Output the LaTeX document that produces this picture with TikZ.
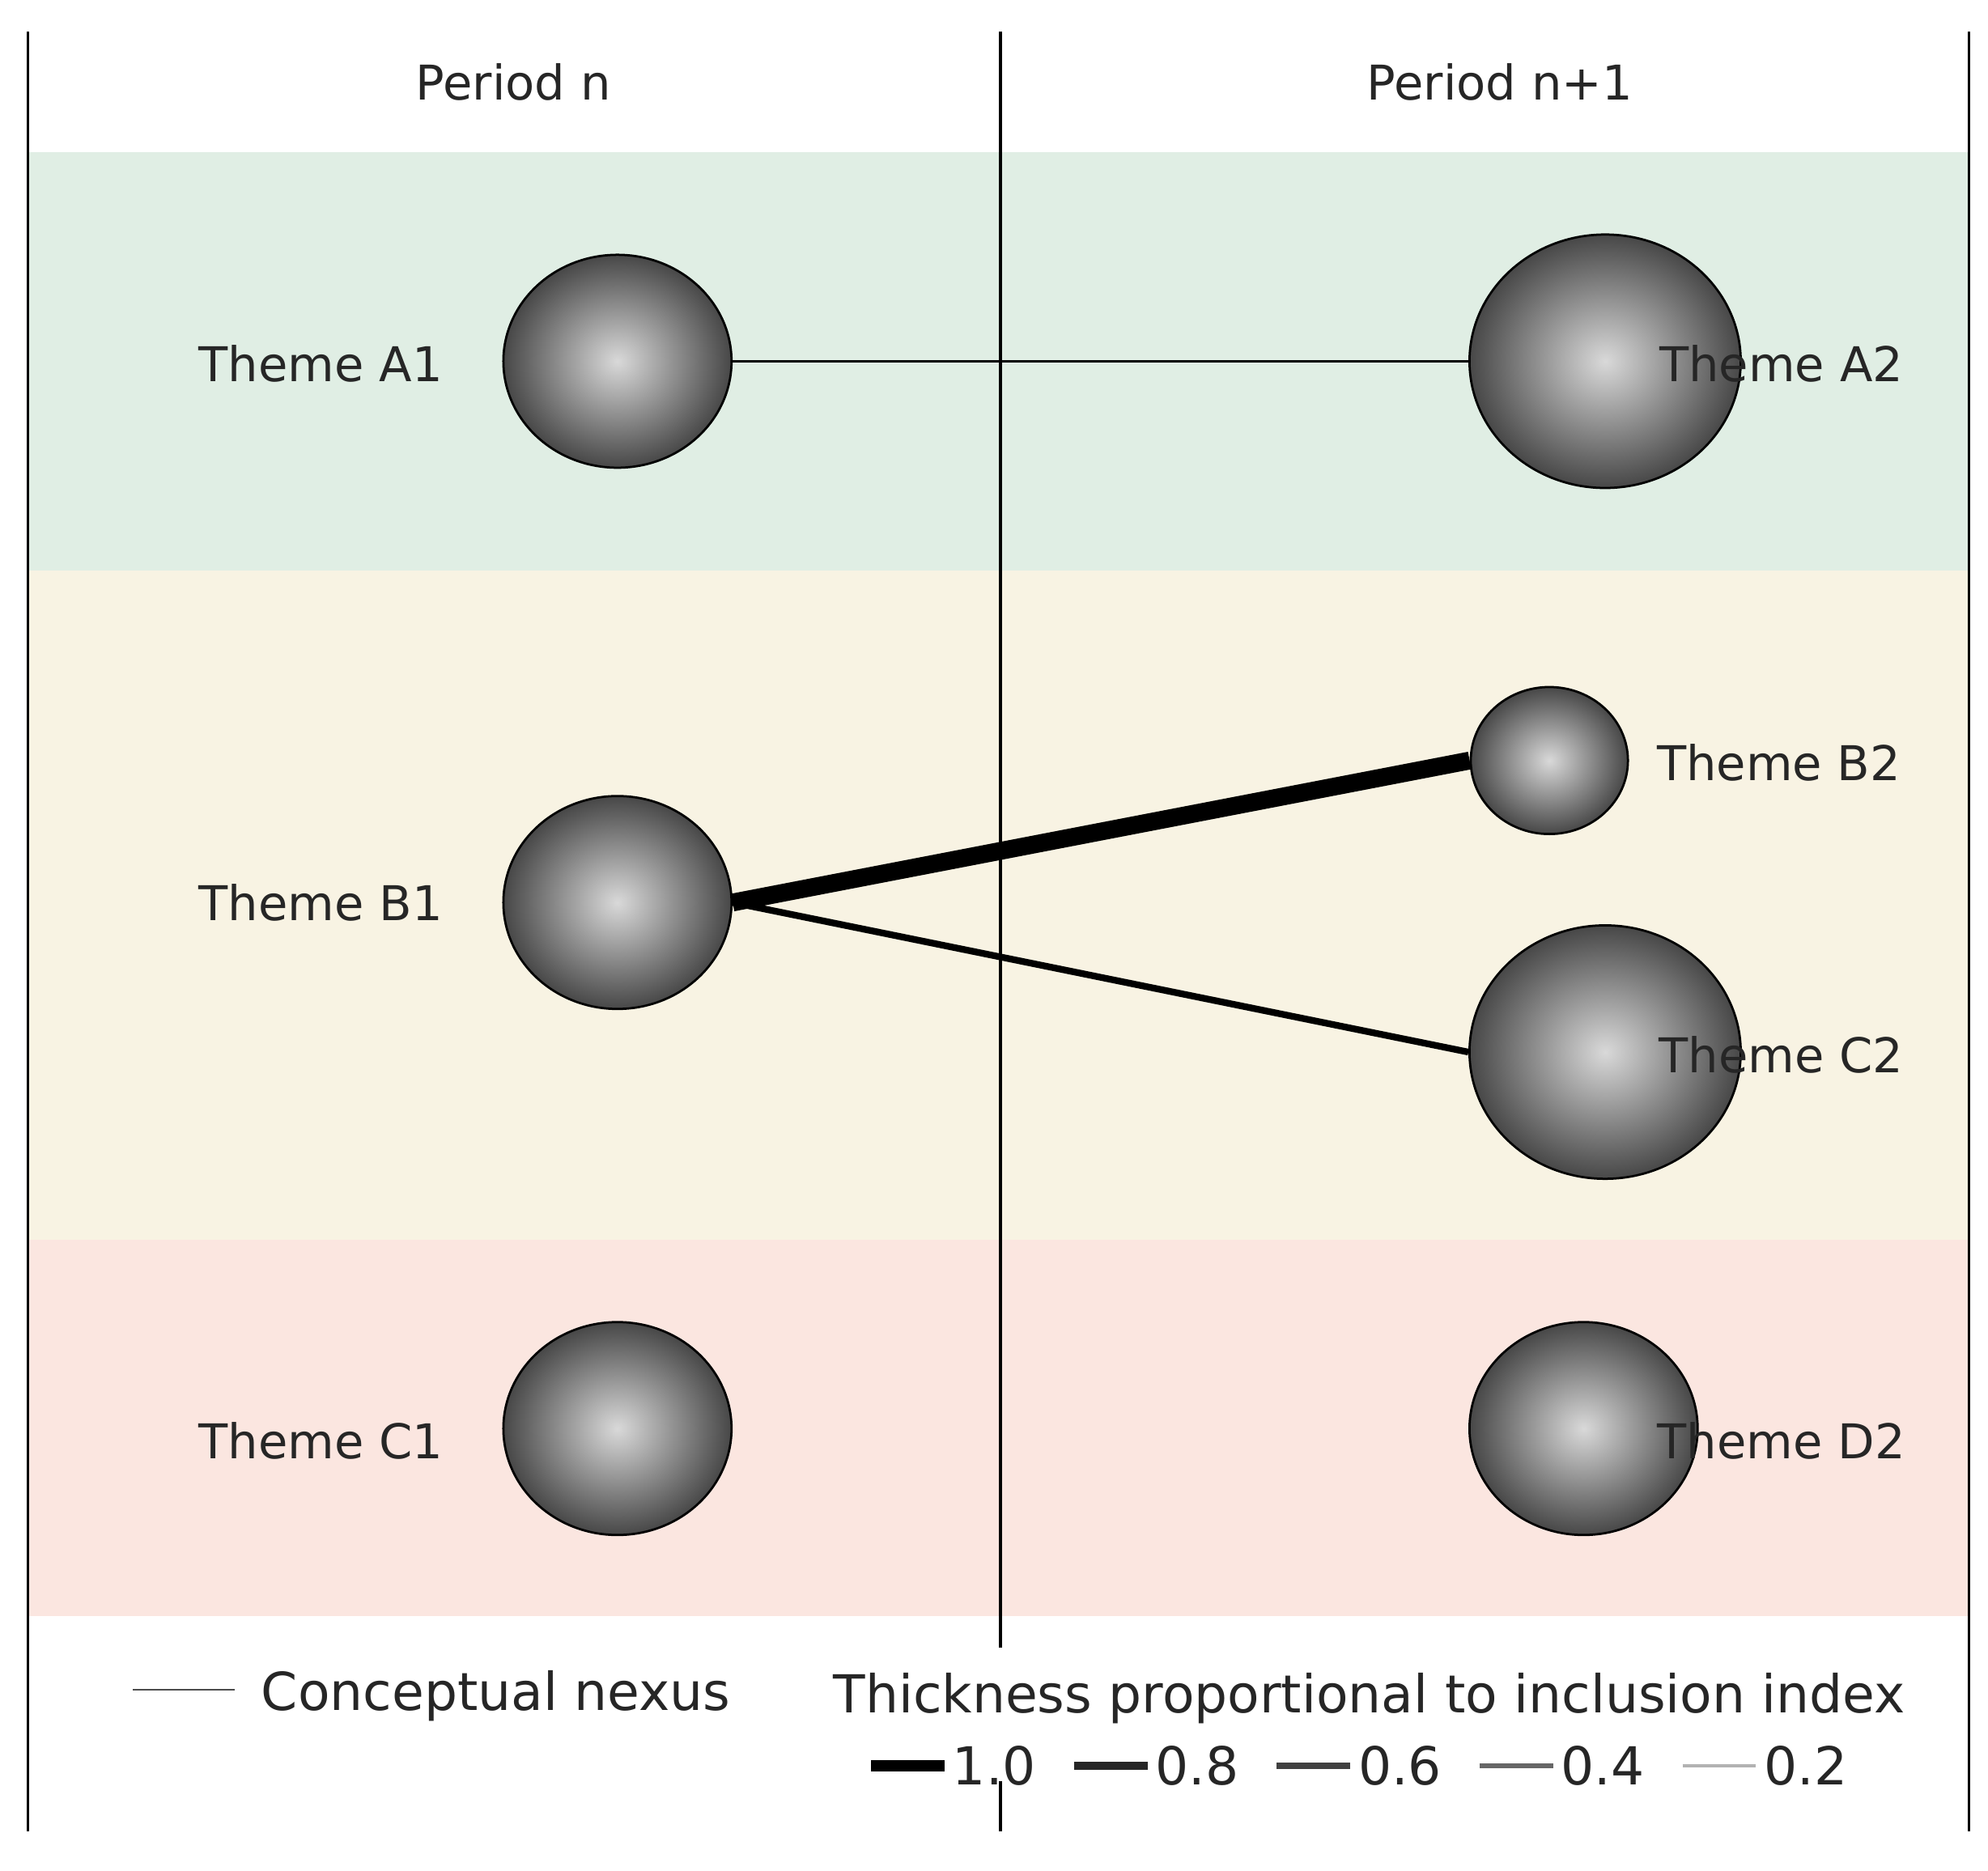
\documentclass[tikz,border=0pt]{standalone}
\usepackage{fontspec}
\setmainfont{DejaVu Sans}
\usetikzlibrary{shapes.geometric}
\begin{document}
\begin{tikzpicture}[x=0.02cm,y=-0.02cm,
 ball/.style={ellipse,draw=black,line width=1pt,inner sep=0pt,shading=radial,inner color=gray!30,outer color=black!72},
 lbl/.style={font=\fontsize{21.5}{26}\selectfont,text=black!85},
 leg/.style={font=\fontsize{23.5}{28}\selectfont,text=black!85},
 vline/.style={line width=1.4pt}]
\useasboundingbox (0,0) rectangle (1568,1476);
\fill[white] (0,0) rectangle (1568,1476);
\fill[fill={rgb,255:red,224;green,238;blue,228}] (22,120) rectangle (1553,450);
\fill[fill={rgb,255:red,248;green,243;blue,227}] (22,450) rectangle (1553,978);
\fill[fill={rgb,255:red,251;green,230;blue,224}] (22,978) rectangle (1553,1275);
\draw[vline] (22,25) -- (22,1445);
\draw[vline] (1553,25) -- (1553,1445);
\draw[vline] (789,25) -- (789,1300);
\draw[vline] (789,1405) -- (789,1445);
\node[lbl] (pn) at (405,65) {Period n};
\node[lbl] (pn1) at (1183,65) {Period n+1};
\node[ball,minimum width=3.6cm,minimum height=3.36cm] (A1) at (487,285) {};
\node[ball,minimum width=4.28cm,minimum height=4cm] (A2) at (1266,285) {};
\node[ball,minimum width=3.6cm,minimum height=3.36cm] (B1) at (487,712) {};
\node[ball,minimum width=2.48cm,minimum height=2.32cm] (B2) at (1222,600) {};
\node[ball,minimum width=4.28cm,minimum height=4cm] (C2) at (1266,830) {};
\node[ball,minimum width=3.6cm,minimum height=3.36cm] (C1) at (487,1127) {};
\node[ball,minimum width=3.6cm,minimum height=3.36cm] (D2) at (1249,1127) {};
\draw[line width=1.2pt] (A1.east) -- (A2.west);
\draw[line width=8pt] (B1.east) -- (B2.west);
\draw[line width=3pt] (B1.east) -- (C2.west);
\node[lbl] (tA1) at (253,287) {Theme A1};
\node[lbl] (tA2) at (1405,287) {Theme A2};
\node[lbl] (tB1) at (253,712) {Theme B1};
\node[lbl] (tB2) at (1403,602) {Theme B2};
\node[lbl] (tC2) at (1405,832) {Theme C2};
\node[lbl] (tC1) at (253,1137) {Theme C1};
\node[lbl] (tD2) at (1405,1137) {Theme D2};
\coordinate (l0) at (105,1333); \coordinate (l1) at (185,1333);
\draw[line width=1pt,black!70] (l0) -- (l1);
\node[leg,anchor=west] (cn) at (200,1338) {Conceptual nexus};
\node[leg] (th) at (1080,1340) {Thickness proportional to inclusion index};
\foreach \i/\x/\w/\c/\t in {1/687/5/black/1.0, 2/847/3.6/black!85/0.8, 3/1007/2.8/black!75/0.6, 4/1167/2.2/black!60/0.4, 5/1327/1.2/black!30/0.2}{
  \coordinate (s\i) at (\x,1393); \coordinate (e\i) at (\x+58,1393);
  \draw[line width=\w pt,\c] (s\i) -- (e\i);
  \node[leg,anchor=west,inner sep=0pt] (v\i) at (\x+64,1393) {\t};
}
\end{tikzpicture}
\end{document}
